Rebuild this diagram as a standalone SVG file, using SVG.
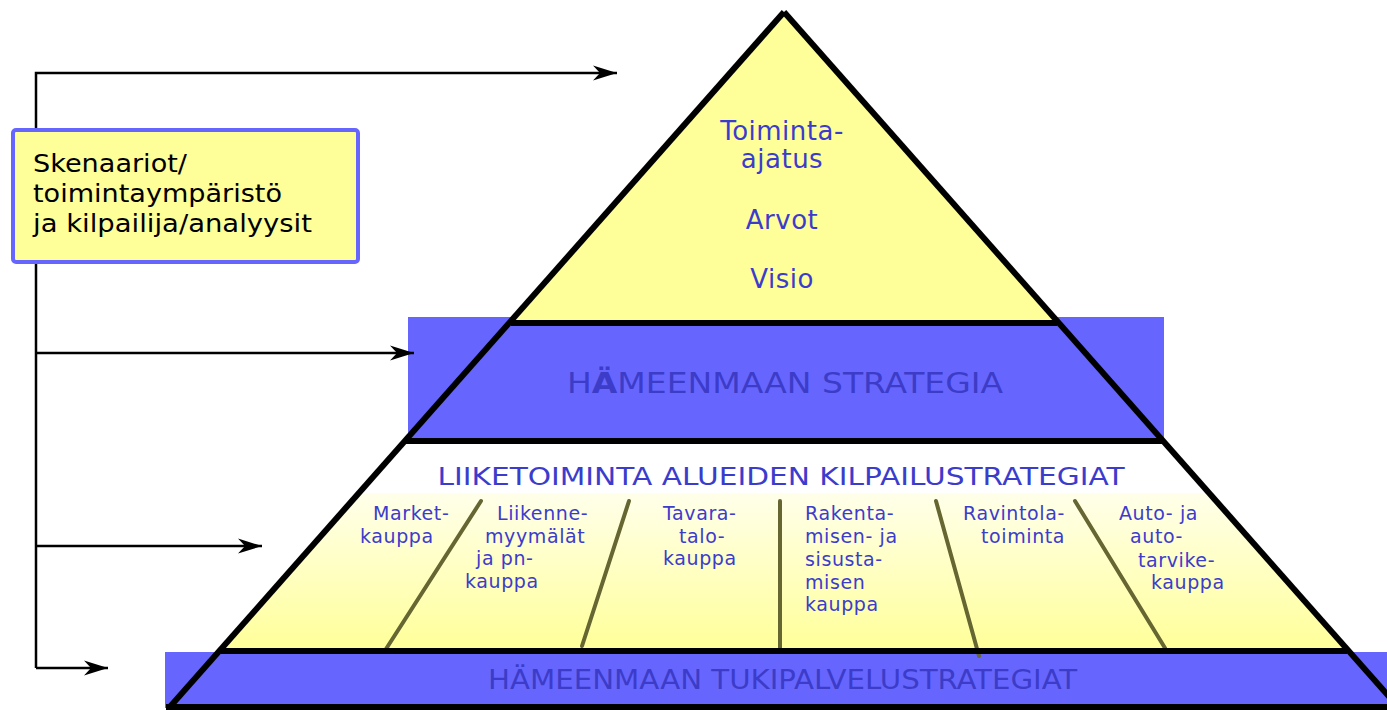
<svg xmlns="http://www.w3.org/2000/svg" width="1387" height="710" viewBox="0 0 1387 710">
<style>
.edge{stroke:#000;stroke-width:6;fill:none;stroke-linejoin:miter}
.band{fill:#6666FF}
.bandtxt{font-family:"Liberation Sans Narrow","DejaVu Sans Condensed","Liberation Sans",sans-serif;fill:#3C3CC8}
.top{font-family:"DejaVu Sans",Verdana,sans-serif;font-size:26px;fill:#3C3CCC;text-anchor:middle;letter-spacing:0.5px}
.lbl{font-family:"DejaVu Sans",Verdana,sans-serif;font-size:19px;fill:#3C3CCC;letter-spacing:0.6px}
.div{stroke:#666633;stroke-width:4;stroke-linecap:round}
.conn{stroke:#000;stroke-width:2.5;fill:none}
.boxtxt{font-family:"DejaVu Sans",Verdana,sans-serif;font-size:25px;fill:#000}
</style>
<defs>
<linearGradient id="g3" gradientUnits="userSpaceOnUse" x1="0" y1="441" x2="0" y2="651">
<stop offset="0" stop-color="#FFFFFF"/>
<stop offset="0.245" stop-color="#FFFFFF"/>
<stop offset="0.25" stop-color="#FFFFEA"/>
<stop offset="1" stop-color="#FFFF99"/>
</linearGradient>
<marker id="arr" markerUnits="userSpaceOnUse" markerWidth="26" markerHeight="18" refX="24" refY="9" orient="auto" viewBox="0 0 26 18">
<path d="M0,1.5 L24,9 L0,16.5 L7,9 Z" fill="#000"/>
</marker>
</defs>

<g id="bottom-band">
<rect class="band" x="165" y="652" width="1222" height="56"/>
<text class="bandtxt" x="488" y="689" font-size="26" textLength="589" lengthAdjust="spacingAndGlyphs">HÄMEENMAAN TUKIPALVELUSTRATEGIAT</text>
</g>

<g id="competition-level">
<polygon points="405,441 1163,441 1347,651 221,651" fill="url(#g3)"/>
<text x="781" y="485" font-family="DejaVu Sans, Verdana, sans-serif" font-size="25" fill="#3C3CCC" text-anchor="middle" textLength="687" lengthAdjust="spacingAndGlyphs">LIIKETOIMINTA ALUEIDEN KILPAILUSTRATEGIAT</text>
<line class="div" x1="481" y1="501" x2="386" y2="649"/>
<line class="div" x1="629" y1="501" x2="582" y2="646"/>
<line class="div" x1="780" y1="501" x2="780" y2="650"/>
<line class="div" x1="936" y1="501" x2="979" y2="656"/>
<line class="div" x1="1075" y1="501" x2="1165" y2="648"/>
<text class="lbl"><tspan x="373" y="520">Market-</tspan><tspan x="360" y="543">kauppa</tspan></text>
<text class="lbl"><tspan x="497" y="520">Liikenne-</tspan><tspan x="485" y="543">myymälät</tspan><tspan x="476" y="565">ja pn-</tspan><tspan x="465" y="588">kauppa</tspan></text>
<text class="lbl"><tspan x="663" y="520">Tavara-</tspan><tspan x="679" y="543">talo-</tspan><tspan x="663" y="565">kauppa</tspan></text>
<text class="lbl"><tspan x="805" y="520">Rakenta-</tspan><tspan x="805" y="543">misen- ja</tspan><tspan x="805" y="566">sisusta-</tspan><tspan x="805" y="589">misen</tspan><tspan x="805" y="611">kauppa</tspan></text>
<text class="lbl"><tspan x="963" y="520">Ravintola-</tspan><tspan x="981" y="543">toiminta</tspan></text>
<text class="lbl"><tspan x="1119" y="520">Auto- ja</tspan><tspan x="1130" y="543">auto-</tspan><tspan x="1138" y="567">tarvike-</tspan><tspan x="1151" y="589">kauppa</tspan></text>
</g>

<g id="strategy-band">
<rect class="band" x="408" y="317" width="756" height="124"/>
<text class="bandtxt" x="567" y="393" font-size="29" textLength="436" lengthAdjust="spacingAndGlyphs">H<tspan font-weight="bold">Ä</tspan>MEENMAAN STRATEGIA</text>
</g>

<g id="top-triangle">
<polygon points="784,12 511,323 1057,323" fill="#FFFF99"/>
<text class="top" x="782" y="140">Toiminta-</text>
<text class="top" x="782" y="168">ajatus</text>
<text class="top" x="782" y="229">Arvot</text>
<text class="top" x="782" y="288">Visio</text>
</g>

<g id="pyramid-outline">
<path class="edge" d="M784,12 L168,709"/>
<path class="edge" d="M784,12 L1400,709"/>
<line class="edge" x1="511" y1="323" x2="1057" y2="323"/>
<line class="edge" x1="405" y1="441" x2="1163" y2="441"/>
<line class="edge" x1="221" y1="651" x2="1347" y2="651" stroke-width="4"/>
<line class="edge" x1="166" y1="707" x2="1387" y2="707" stroke-width="3"/>
</g>

<g id="connectors">
<polyline class="conn" points="36,668 36,73 617,73" marker-end="url(#arr)"/>
<line class="conn" x1="36" y1="353" x2="414" y2="353" marker-end="url(#arr)"/>
<line class="conn" x1="36" y1="546" x2="262" y2="546" marker-end="url(#arr)"/>
<line class="conn" x1="36" y1="668" x2="108" y2="668" marker-end="url(#arr)"/>
</g>

<g id="scenario-box">
<rect x="13" y="130" width="345" height="132" rx="3" fill="#FFFF99" stroke="#6666FF" stroke-width="4"/>
<text class="boxtxt" x="33" y="172" textLength="154" lengthAdjust="spacingAndGlyphs">Skenaariot/</text>
<text class="boxtxt" x="33" y="202" textLength="249" lengthAdjust="spacingAndGlyphs">toimintaympäristö</text>
<text class="boxtxt" x="33" y="232" textLength="279" lengthAdjust="spacingAndGlyphs">ja kilpailija/analyysit</text>
</g>
</svg>
